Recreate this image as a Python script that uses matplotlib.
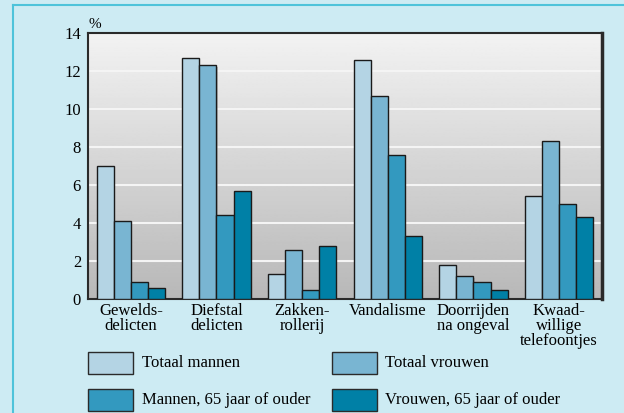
import numpy as np
import matplotlib
matplotlib.use('Agg')
import matplotlib.pyplot as plt
from matplotlib.patches import Rectangle
from matplotlib.lines import Line2D

categories = ['Gewelds-\ndelicten', 'Diefstal\ndelicten', 'Zakken-\nrollerij',
              'Vandalisme', 'Doorrijden\nna ongeval', 'Kwaad-\nwillige\ntelefoontjes']
series_names = ['Totaal mannen', 'Totaal vrouwen',
                'Mannen, 65 jaar of ouder', 'Vrouwen, 65 jaar of ouder']
totaal_mannen = [7.0, 12.7, 1.3, 12.6, 1.8, 5.4]
totaal_vrouwen = [4.1, 12.3, 2.6, 10.7, 1.2, 8.3]
mannen_65 = [0.9, 4.4, 0.5, 7.6, 0.9, 5.0]
vrouwen_65 = [0.6, 5.7, 2.8, 3.3, 0.5, 4.3]
yticks = [0, 2, 4, 6, 8, 10, 12, 14]

colors = ['#b4d4e4', '#79b5d2', '#3399bf', '#0080a6']
bg = '#cdebf3'

plt.rcParams['font.family'] = ['Liberation Serif', 'DejaVu Serif']

fig = plt.figure(figsize=(6.24, 4.13), dpi=100, facecolor=bg)
W, H = 624, 413
ax = fig.add_axes([88 / W, 1 - 299 / H, (602 - 88) / W, (299 - 33) / H])

# gradient background
grad = np.linspace(0.95, 0.72, 256).reshape(-1, 1)
ax.imshow(grad, cmap='gray', vmin=0, vmax=1, aspect='auto',
          extent=[-0.5, 5.5, 0, 14], zorder=0, origin='upper')

for y in yticks[1:-1]:
    ax.axhline(y, color='#f4f4f4', lw=1.5, zorder=1)

x = np.arange(len(categories))
width = 0.2
all_series = [totaal_mannen, totaal_vrouwen, mannen_65, vrouwen_65]
for i, vals in enumerate(all_series):
    pos = x + (i - 1.5) * width
    # faint shadow
    ax.bar(pos + 0.012, vals, width, bottom=-0.08, color='#888888', alpha=0.5,
           zorder=2, linewidth=0)
    ax.bar(pos, vals, width, color=colors[i], edgecolor='#1a1a1a',
           linewidth=1.0, zorder=3)

ax.set_xlim(-0.5, 5.5)
ax.set_ylim(0, 14)
ax.set_yticks(yticks)
ax.set_yticklabels([str(v) for v in yticks], fontsize=12)
ax.set_xticks(x)
ax.set_xticklabels(categories, fontsize=12, linespacing=0.9)
ax.tick_params(length=0, pad=3)
ax.tick_params(axis='y', pad=5)
for s in ax.spines.values():
    s.set_color('#2a2a2a')
    s.set_linewidth(1.5)
ax.spines['right'].set_linewidth(2.5)

fig.text(95 / W, 1 - 25 / H, '%', fontsize=11, ha='center', va='center')

# frame border on top and left
fig.add_artist(Line2D([13 / W, 1], [1 - 5 / H, 1 - 5 / H], color='#4ec3da', lw=1.5))
fig.add_artist(Line2D([13 / W, 13 / W], [0, 1 - 5 / H], color='#4ec3da', lw=1.5))

# legend
legend_pos = [(88, 352, 142), (332, 352, 385), (88, 389, 142), (332, 389, 385)]
for i, (px, py, tx) in enumerate(legend_pos):
    fig.add_artist(Rectangle((px / W, 1 - (py + 22) / H), 45 / W, 22 / H,
                             facecolor=colors[i], edgecolor='#2a2a2a', lw=1.0,
                             transform=fig.transFigure))
    fig.text(tx / W, 1 - (py + 11) / H, series_names[i], fontsize=12,
             ha='left', va='center')

fig.savefig('out.png', dpi=100, facecolor=bg)
